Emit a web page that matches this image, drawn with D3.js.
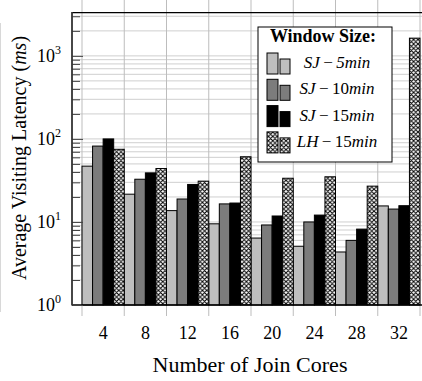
<!DOCTYPE html>
<html>
<head>
<meta charset="utf-8">
<script src="https://cdn.jsdelivr.net/npm/d3@7"></script>
<style>
  html, body { margin: 0; padding: 0; background: #fff; }
  svg { display: block; font-family: "Liberation Serif", "Times New Roman", serif; }
</style>
</head>
<body>
<svg id="chart" width="422" height="381"></svg>
<script>
// Join cores on the x axis
const cores = ["4", "8", "12", "16", "20", "24", "28", "32"];
// Average visiting latency (ms) per window configuration
const sj5  = [47, 21.6, 13.7, 9.5, 6.4, 5.1, 4.35, 15.6];
const sj10 = [82, 32.7, 18.9, 16.5, 9.2, 10.0, 6.0, 14.3];
const sj15 = [100, 39, 28.3, 16.9, 11.8, 12.1, 8.2, 15.7];
const lh15 = [75, 44, 31, 61, 33.6, 35, 27, 1635];
const seriesNames = ["SJ5", "SJ10", "SJ15", "LH15"];
const yMajorTicks = [1, 10, 100, 1000];

const series = [
  { key: "SJ5",  values: sj5,  fill: "#bebebe", label: ["SJ", "5", "min"], numItalic: true },
  { key: "SJ10", values: sj10, fill: "#7c7c7c", label: ["SJ", "10", "min"], numItalic: false },
  { key: "SJ15", values: sj15, fill: "#000000", label: ["SJ", "15", "min"], numItalic: false },
  { key: "LH15", values: lh15, fill: "url(#xhatch)", label: ["LH", "15", "min"], numItalic: false }
];

const svg = d3.select("#chart");
const plotL = 72, plotR = 432, plotT = 12.7, plotB = 305;

// cross-hatch fill
const P = 4.4;
const defs = svg.append("defs");
const pat = defs.append("pattern").attr("id", "xhatch")
  .attr("patternUnits", "userSpaceOnUse").attr("width", P).attr("height", P);
pat.append("rect").attr("width", P).attr("height", P).attr("fill", "#fff");
pat.append("path")
  .attr("d", `M0,0L${P},${P}M${P},0L0,${P}M-1,1L1,-1M${P-1},${P+1}L${P+1},${P-1}M-1,${P-1}L1,${P+1}M${P-1},-1L${P+1},1`)
  .attr("stroke", "#000").attr("stroke-width", 1);

const x = d3.scaleBand().domain(cores).range([82, 420]).paddingInner(0).paddingOuter(0);
const xs = d3.scaleBand().domain(seriesNames).range([0, x.bandwidth()]).padding(0);
const y = d3.scaleLog().domain([1, Math.pow(10, 3.52)]).range([plotB, plotT]);

// faint page edge
svg.append("line").attr("x1", 0.5).attr("x2", 0.5).attr("y1", 23).attr("y2", 312)
  .attr("stroke", "#d8d8d8");

// horizontal grid lines on log ticks
const allTicks = [];
for (let e = 0; e <= 3; e++) for (let m = 1; m <= 9; m++) {
  const v = m * Math.pow(10, e);
  if (v <= y.domain()[1]) allTicks.push(v);
}
svg.append("g").selectAll("line").data(allTicks.filter(v => v > 1)).join("line")
  .attr("x1", plotL).attr("x2", plotR)
  .attr("y1", d => y(d)).attr("y2", d => y(d))
  .attr("stroke", "#cfcfcf").attr("stroke-width", 1);

// vertical grid lines at group boundaries, running past the frame
const bounds = cores.map(c => x(c)).concat([x(cores[cores.length - 1]) + x.bandwidth()]);
svg.append("g").selectAll("line").data(bounds).join("line")
  .attr("x1", d => d).attr("x2", d => d).attr("y1", 0).attr("y2", 316)
  .attr("stroke", "#bdbdbd").attr("stroke-width", 1);

// bars
const groups = svg.append("g").selectAll("g").data(series).join("g");
groups.selectAll("rect").data(s => s.values.map((v, i) => ({ s, v, c: cores[i] }))).join("rect")
  .attr("x", d => x(d.c) + xs(d.s.key))
  .attr("y", d => y(d.v))
  .attr("width", xs.bandwidth())
  .attr("height", d => plotB - y(d.v))
  .attr("fill", d => d.s.fill)
  .attr("stroke", "#000").attr("stroke-width", 1);

// frame
svg.append("line").attr("x1", plotL).attr("x2", plotR).attr("y1", plotT).attr("y2", plotT)
  .attr("stroke", "#000").attr("stroke-width", 1.3);
svg.append("line").attr("x1", plotL).attr("x2", plotR).attr("y1", plotB).attr("y2", plotB)
  .attr("stroke", "#000").attr("stroke-width", 1.3);

// left axis with inward ticks
const yAxis = d3.axisRight(y).tickValues(allTicks).tickSize(8).tickFormat("");
const ya = svg.append("g").attr("transform", `translate(${plotL},0)`).call(yAxis);
ya.select(".domain").remove();
ya.selectAll(".tick line").attr("stroke", "#444").attr("stroke-width", 1)
  .attr("x2", d => yMajorTicks.includes(d) ? 11 : 8);
svg.append("line").attr("x1", plotL).attr("x2", plotL).attr("y1", plotT - 0.6).attr("y2", plotB + 0.6)
  .attr("stroke", "#333").attr("stroke-width", 1.8);

// y tick labels 10^n
const yl = svg.append("g").selectAll("text").data(yMajorTicks).join("text")
  .attr("x", 61).attr("y", d => y(d) + 6)
  .attr("text-anchor", "end").attr("font-size", 18).attr("fill", "#000");
yl.append("tspan").text("10");
yl.append("tspan").attr("font-size", 12).attr("dy", -8).text(d => Math.round(Math.log10(d)));

// x tick labels
const xAxis = d3.axisBottom(x).tickSize(0).tickPadding(0);
const xa = svg.append("g").attr("transform", `translate(0,${plotB})`).call(xAxis);
xa.select(".domain").remove();
xa.selectAll(".tick text").attr("font-size", 18).attr("font-family", "Liberation Serif, serif")
  .attr("fill", "#000").attr("dy", 0).attr("y", 34);

// axis titles
svg.append("text").attr("x", 250).attr("y", 372).attr("text-anchor", "middle")
  .attr("font-size", 22).text("Number of Join Cores");
const yt = svg.append("text").attr("transform", "translate(26,158) rotate(-90)")
  .attr("text-anchor", "middle").attr("font-size", 20);
yt.append("tspan").text("Average Visiting Latency (");
yt.append("tspan").attr("font-style", "italic").text("ms");
yt.append("tspan").text(")");

// legend
const lg = svg.append("g");
lg.append("rect").attr("x", 258).attr("y", 27).attr("width", 134).attr("height", 135)
  .attr("fill", "#fff").attr("stroke", "#000").attr("stroke-width", 1);
lg.append("text").attr("x", 323).attr("y", 42).attr("text-anchor", "middle")
  .attr("font-size", 18).attr("font-weight", "bold").text("Window Size:");
series.forEach((s, i) => {
  const rb = 74 + i * 26.3;
  lg.append("rect").attr("x", 267).attr("y", rb - 21).attr("width", 11).attr("height", 21)
    .attr("fill", s.fill).attr("stroke", "#000").attr("stroke-width", 1);
  lg.append("rect").attr("x", 280).attr("y", rb - 15).attr("width", 10).attr("height", 15)
    .attr("fill", s.fill).attr("stroke", "#000").attr("stroke-width", 1);
  const t = lg.append("text").attr("x", 337).attr("y", rb - 6).attr("text-anchor", "middle")
    .attr("font-size", 17);
  t.append("tspan").attr("font-style", "italic").text(s.label[0]);
  t.append("tspan").text("\u2009\u2212\u2009");
  t.append("tspan").attr("font-style", s.numItalic ? "italic" : "normal").text(s.label[1]);
  t.append("tspan").attr("font-style", "italic").text(s.label[2]);
});
</script>
</body>
</html>
